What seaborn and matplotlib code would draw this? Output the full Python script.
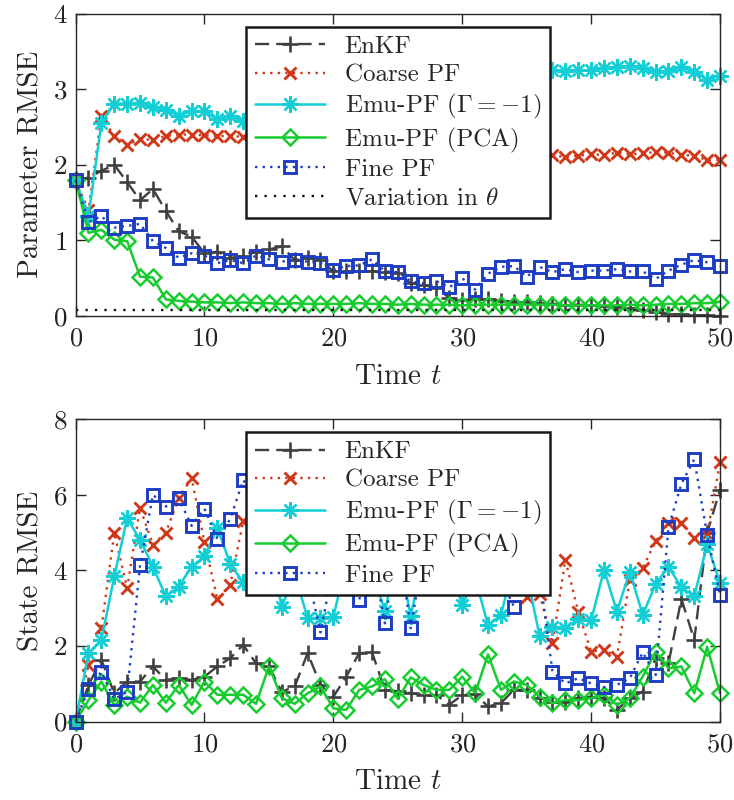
import numpy as np
import matplotlib
matplotlib.use("Agg")
import matplotlib.pyplot as plt
import seaborn as sns

# ---------------------------------------------------------------- data
t = np.arange(51)

# Parameter RMSE
enkf_par = [1.80, 1.83, 1.92, 2.00, 1.77, 1.53, 1.68, 1.39, 1.12, 1.05,
            0.83, 0.85, 0.77, 0.79, 0.85, 0.88, 0.92, 0.74, 0.77, 0.74,
            0.59, 0.59, 0.59, 0.59, 0.58, 0.57, 0.43, 0.41, 0.37, 0.24,
            0.21, 0.22, 0.22, 0.20, 0.19, 0.18, 0.17, 0.16, 0.15, 0.15,
            0.14, 0.13, 0.12, 0.11, 0.08, 0.05, 0.03, 0.02, 0.01, 0.01, 0.00]
coarse_par = [1.80, 1.40, 2.65, 2.38, 2.26, 2.34, 2.33, 2.38, 2.40, 2.40,
              2.39, 2.38, 2.38, 2.37, 2.36, 2.38, 2.35, 2.34, 2.36, 2.32,
              2.31, 2.33, 2.29, 2.28, 2.27, 2.25, 2.26, 2.23, 2.22, 2.20,
              2.21, 2.18, 2.17, 2.16, 2.15, 2.14, 2.12, 2.13, 2.10, 2.12,
              2.14, 2.13, 2.16, 2.14, 2.15, 2.17, 2.16, 2.13, 2.12, 2.06, 2.07]
emu_par = [1.80, 1.32, 2.55, 2.81, 2.81, 2.82, 2.76, 2.73, 2.65, 2.71,
           2.71, 2.60, 2.64, 2.58, 2.61, 2.57, 2.66, 2.70, 2.68, 2.77,
           2.82, 2.80, 2.88, 2.93, 2.90, 2.98, 3.03, 3.01, 3.08, 3.12,
           3.10, 3.16, 3.20, 3.18, 3.23, 3.22, 3.26, 3.25, 3.24, 3.25,
           3.25, 3.28, 3.29, 3.31, 3.28, 3.23, 3.24, 3.29, 3.23, 3.12, 3.18]
pca_par = [1.80, 1.10, 1.14, 1.01, 0.99, 0.52, 0.51, 0.22, 0.20, 0.19,
           0.18, 0.18, 0.17, 0.18, 0.17, 0.17, 0.16, 0.17, 0.16, 0.16,
           0.16, 0.16, 0.17, 0.16, 0.16, 0.15, 0.16, 0.15, 0.15, 0.15,
           0.14, 0.15, 0.15, 0.15, 0.15, 0.15, 0.15, 0.15, 0.14, 0.14,
           0.14, 0.14, 0.14, 0.15, 0.14, 0.15, 0.16, 0.16, 0.17, 0.17, 0.19]
fine_par = [1.80, 1.24, 1.32, 1.17, 1.19, 1.22, 0.99, 0.90, 0.77, 0.83,
            0.80, 0.70, 0.74, 0.70, 0.80, 0.75, 0.72, 0.74, 0.72, 0.70,
            0.61, 0.66, 0.67, 0.75, 0.59, 0.58, 0.46, 0.43, 0.46, 0.38,
            0.50, 0.35, 0.56, 0.65, 0.66, 0.52, 0.65, 0.58, 0.62, 0.58,
            0.60, 0.60, 0.62, 0.59, 0.59, 0.49, 0.60, 0.68, 0.74, 0.71, 0.66]
theta_variation = 0.085

# State RMSE
enkf_state = [0.00, 0.97, 1.63, 0.75, 1.06, 1.06, 1.46, 1.10, 1.15, 1.10,
              1.19, 1.46, 1.68, 2.03, 1.54, 1.46, 0.79, 0.93, 1.81, 0.97,
              0.66, 1.19, 1.81, 1.83, 0.84, 0.80, 0.75, 0.70, 0.70, 0.45,
              0.70, 0.72, 0.40, 0.49, 0.84, 0.84, 0.62, 0.53, 0.53, 0.62,
              0.66, 0.62, 0.31, 0.62, 0.79, 1.68, 1.54, 3.25, 2.16, 4.99, 6.14]
coarse_state = [0.00, 1.50, 2.47, 4.99, 3.53, 5.65, 4.68, 5.00, 5.91, 6.44,
                4.74, 3.24, 3.62, 5.30, 4.60, 5.40, 4.90, 5.80, 4.70, 5.20,
                6.00, 5.10, 4.40, 5.60, 4.90, 5.70, 4.30, 5.00, 6.10, 5.30,
                4.60, 5.50, 4.80, 4.10, 3.70, 3.30, 3.38, 2.07, 4.28, 2.90,
                1.85, 1.90, 1.72, 3.75, 4.06, 4.77, 5.25, 5.25, 4.85, 4.95, 6.86]
emu_state = [0.00, 1.81, 2.16, 3.84, 5.38, 4.81, 4.10, 3.31, 3.57, 4.10,
             4.37, 5.12, 4.17, 3.68, 4.30, 4.60, 3.04, 3.90, 2.74, 2.74,
             2.78, 4.20, 4.80, 4.00, 2.92, 4.50, 2.80, 4.40, 4.90, 4.10,
             3.09, 3.80, 2.55, 2.82, 4.20, 3.90, 2.27, 2.51, 2.47, 2.72,
             2.68, 4.02, 2.91, 3.97, 2.82, 3.64, 4.10, 3.55, 3.31, 4.70, 3.66]
pca_state = [0.00, 0.57, 1.06, 0.44, 0.66, 0.50, 0.97, 0.50, 0.97, 0.44,
             1.06, 0.71, 0.71, 0.71, 0.47, 1.46, 0.62, 0.47, 0.75, 0.93,
             0.35, 0.31, 0.84, 0.93, 1.12, 0.60, 1.17, 0.97, 0.84, 0.84,
             1.19, 0.75, 1.78, 0.84, 1.06, 0.97, 0.66, 0.49, 0.57, 0.57,
             0.62, 0.71, 0.44, 0.62, 1.19, 1.85, 1.41, 1.46, 0.75, 1.98, 0.75]
fine_state = [0.00, 0.86, 1.32, 0.59, 0.79, 4.13, 6.00, 5.69, 5.91, 5.18,
              5.63, 4.83, 5.36, 6.39, 5.90, 4.80, 5.50, 4.60, 3.90, 2.36,
              4.10, 5.00, 3.22, 4.40, 2.60, 4.90, 2.47, 4.50, 5.30, 4.70,
              5.80, 4.90, 4.30, 3.80, 3.04, 4.60, 3.90, 1.32, 1.01, 1.15,
              1.01, 0.91, 0.97, 1.15, 1.83, 1.23, 5.14, 6.29, 6.94, 4.94, 3.35]

labels = ["EnKF", "Coarse PF", r"Emu-PF ($\Gamma = -1$)",
          "Emu-PF (PCA)", "Fine PF", r"Variation in $\theta$"]
x_ticks = [0, 10, 20, 30, 40, 50]
par_ticks = [0, 1, 2, 3, 4]
state_ticks = [0, 2, 4, 6, 8]

# ---------------------------------------------------------------- styles
sns.set_theme(style="ticks")
plt.rcParams.update({
    "font.family": "serif",
    "font.serif": ["cmr10", "DejaVu Serif"],
    "mathtext.fontset": "cm",
    "axes.formatter.use_mathtext": True,
    "axes.edgecolor": "#262626",
    "axes.linewidth": 1.0,
    "xtick.direction": "in",
    "ytick.direction": "in",
    "xtick.top": True,
    "ytick.right": True,
    "xtick.major.size": 7,
    "ytick.major.size": 7,
    "xtick.major.width": 1.0,
    "ytick.major.width": 1.0,
    "xtick.color": "#262626",
    "ytick.color": "#262626",
    "xtick.labelcolor": "#222222",
    "ytick.labelcolor": "#222222",
})

styles = [
    dict(color="#404040", linestyle=(0, (6, 3)), linewidth=1.7, marker="+",
         markersize=12, markeredgewidth=1.9, markeredgecolor="#404040",
         markerfacecolor="none"),
    dict(color="#D0381A", linestyle=(0, (1, 2.2)), linewidth=1.7, marker="x",
         markersize=8, markeredgewidth=2.1, markeredgecolor="#D0381A",
         markerfacecolor="none"),
    dict(color="#14CED6", linestyle="-", linewidth=1.8, marker=(8, 2, 0),
         markersize=12, markeredgewidth=1.7, markeredgecolor="#14CED6",
         markerfacecolor="none"),
    dict(color="#18CC30", linestyle="-", linewidth=1.8, marker="D",
         markersize=8.5, markeredgewidth=1.8, markeredgecolor="#18CC30",
         markerfacecolor="none"),
    dict(color="#1C3DC4", linestyle=(0, (1, 2.2)), linewidth=1.7, marker="s",
         markersize=9, markeredgewidth=2.1, markeredgecolor="#1C3DC4",
         markerfacecolor="none"),
    dict(color="#111111", linestyle=(0, (1, 3)), linewidth=1.7, marker=None),
]

fig = plt.figure(figsize=(7.34, 8.0), dpi=100)
ax_par = fig.add_axes([0.103, 0.605, 0.878, 0.378])
ax_state = fig.add_axes([0.103, 0.098, 0.878, 0.378])


def draw_panel(ax, series, yticks, ylabel, with_theta):
    handles = []
    for y, style in zip(series, styles):
        sns.lineplot(x=t, y=y, ax=ax, clip_on=False, **style)
        handles.append(ax.lines[-1])
    if with_theta:
        sns.lineplot(x=[t[0], t[-1]], y=[theta_variation, theta_variation],
                     ax=ax, clip_on=False, **styles[5])
        handles.append(ax.lines[-1])
    ax.set_xlim(t[0], t[-1])
    ax.set_ylim(yticks[0], yticks[-1])
    ax.set_xticks(x_ticks)
    ax.set_yticks(yticks)
    ax.tick_params(axis="x", labelsize=19, pad=8)
    ax.tick_params(axis="y", labelsize=19.5, pad=6)
    ax.set_xlabel("Time $t$", fontsize=21, labelpad=9)
    ax.set_ylabel(ylabel, fontsize=21, labelpad=6)
    n = len(handles)
    leg = ax.legend(handles, labels[:n], loc="upper center",
                    bbox_to_anchor=(0.5, 0.957), fontsize=18,
                    frameon=True, fancybox=False, framealpha=1.0,
                    edgecolor="#1a1a1a", handlelength=2.8,
                    handletextpad=0.8, labelspacing=0.24, borderpad=0.35,
                    borderaxespad=0.0)
    leg.get_frame().set_linewidth(1.8)
    leg.set_zorder(10)
    for s in ax.spines.values():
        s.set_zorder(5)


draw_panel(ax_par, [enkf_par, coarse_par, emu_par, pca_par, fine_par],
           par_ticks, "Parameter RMSE", True)
draw_panel(ax_state, [enkf_state, coarse_state, emu_state, pca_state, fine_state],
           state_ticks, "State RMSE", False)

fig.savefig("out.png", dpi=100)
